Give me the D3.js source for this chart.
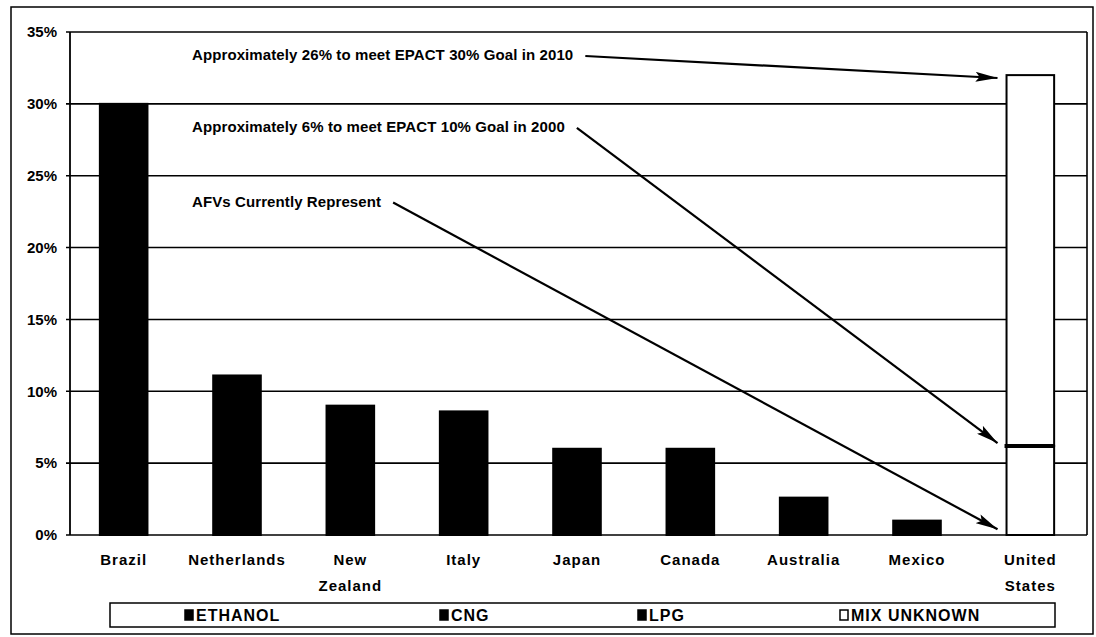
<!DOCTYPE html>
<html>
<head>
<meta charset="utf-8">
<script src="https://cdn.jsdelivr.net/npm/d3@7"></script>
<style>
  body { margin: 0; background: #fff; }
  text { font-family: "Liberation Sans", Arial, sans-serif; font-weight: bold; fill: #000; }
</style>
</head>
<body>
<div id="chart"></div>
<script>
// chart values
const countries = ["Brazil", "Netherlands", "New\nZealand", "Italy", "Japan", "Canada", "Australia", "Mexico", "United\nStates"];
const fuels     = ["ETHANOL", "LPG", "CNG", "LPG", "LPG", "LPG", "LPG", "LPG", "MIX UNKNOWN"];
const shares    = [30, 11.1, 9, 8.6, 6, 6, 2.6, 1, 6.2];
const usGap     = 25.8;   // part still needed on top of the US bar
const yTicks    = [0, 5, 10, 15, 20, 25, 30, 35];
const legendKeys = ["ETHANOL", "CNG", "LPG", "MIX UNKNOWN"];
const notes = [
    {text: "Approximately 26% to meet EPACT 30% Goal in 2010", at: 33.4, target: 31.8},
    {text: "Approximately 6% to meet EPACT 10% Goal in 2000", at: 28.4, target: 6.4},
    {text: "AFVs Currently Represent", at: 23.2, target: 0.4}
];

const width = 1096, height = 637;
const margin = {top: 32, right: 9, bottom: 102, left: 70};

const svg = d3.select("#chart").append("svg")
    .attr("width", width)
    .attr("height", height);

// outer frame
svg.append("rect")
    .attr("x", 11).attr("y", 7)
    .attr("width", 1082).attr("height", 627)
    .attr("fill", "none").attr("stroke", "#000").attr("stroke-width", 1.5);

const x = d3.scaleBand()
    .domain(countries)
    .range([margin.left - 3, width - margin.right])
    .paddingInner(0.58)
    .paddingOuter(0.29);

const y = d3.scaleLinear()
    .domain([0, 35])
    .range([height - margin.bottom, margin.top]);

// gridlines
svg.append("g")
    .selectAll("line")
    .data(yTicks)
    .join("line")
    .attr("x1", margin.left - 4)
    .attr("x2", width - margin.right)
    .attr("y1", d => y(d))
    .attr("y2", d => y(d))
    .attr("stroke", "#000")
    .attr("stroke-width", 1.6);

// plot frame sides
svg.append("line")
    .attr("x1", margin.left).attr("x2", margin.left)
    .attr("y1", y(0)).attr("y2", y(35))
    .attr("stroke", "#000").attr("stroke-width", 1.8);
svg.append("line")
    .attr("x1", width - margin.right).attr("x2", width - margin.right)
    .attr("y1", y(0)).attr("y2", y(35))
    .attr("stroke", "#000").attr("stroke-width", 1.6);

// y tick labels
svg.append("g")
    .selectAll("text")
    .data(yTicks)
    .join("text")
    .attr("x", 57)
    .attr("y", d => y(d))
    .attr("dy", "0.35em")
    .attr("text-anchor", "end")
    .attr("font-size", 15)
    .text(d => d + "%");

// bars
const bars = countries.map((c, i) => ({country: c, fuel: fuels[i], value: shares[i]}));

svg.append("g")
    .selectAll("rect")
    .data(bars)
    .join("rect")
    .attr("x", d => x(d.country))
    .attr("width", x.bandwidth())
    .attr("y", d => y(d.value))
    .attr("height", d => y(0) - y(d.value))
    .attr("fill", d => d.fuel == "MIX UNKNOWN" ? "#fff" : "#000")
    .attr("stroke", "#000")
    .attr("stroke-width", 2);

// US stacked part up to the 2010 goal
const us = bars[bars.length - 1];
svg.append("rect")
    .attr("x", x(us.country))
    .attr("width", x.bandwidth())
    .attr("y", y(us.value + usGap))
    .attr("height", y(us.value) - y(us.value + usGap))
    .attr("fill", "#fff")
    .attr("stroke", "#000")
    .attr("stroke-width", 2);
svg.append("line")
    .attr("x1", x(us.country) - 2)
    .attr("x2", x(us.country) + x.bandwidth())
    .attr("y1", y(us.value))
    .attr("y2", y(us.value))
    .attr("stroke", "#000")
    .attr("stroke-width", 4);

// x labels
const xl = svg.append("g")
    .selectAll("text")
    .data(countries)
    .join("text")
    .attr("x", d => x(d) + x.bandwidth() / 2)
    .attr("y", 565)
    .attr("text-anchor", "middle")
    .attr("font-size", 15)
    .attr("letter-spacing", 1);
xl.selectAll("tspan")
    .data(d => d.split("\n"))
    .join("tspan")
    .attr("x", function() { return d3.select(this.parentNode).attr("x"); })
    .attr("dy", (d, i) => i ? 26 : 0)
    .text(d => d);

// annotations with arrows
svg.append("defs").append("marker")
    .attr("id", "head")
    .attr("viewBox", "0 0 22 10")
    .attr("refX", 22).attr("refY", 5)
    .attr("markerWidth", 22).attr("markerHeight", 10)
    .attr("markerUnits", "userSpaceOnUse")
    .attr("orient", "auto")
    .append("path")
    .attr("d", "M0,0 L22,5 L0,10 L4,5 Z")
    .attr("fill", "#000");

notes.forEach(n => {
    const t = svg.append("text")
        .attr("x", margin.left + 122)
        .attr("y", y(n.at))
        .attr("dy", "0.35em")
        .attr("font-size", 15)
        .attr("letter-spacing", 0.1)
        .text(n.text);
    const bb = t.node().getBBox();
    svg.append("line")
        .attr("x1", bb.x + bb.width + 12)
        .attr("y1", y(n.at) + 1)
        .attr("x2", x(us.country) - 9)
        .attr("y2", y(n.target))
        .attr("stroke", "#000")
        .attr("stroke-width", 2.2)
        .attr("marker-end", "url(#head)");
});

// legend
const leg = svg.append("g");
leg.append("rect")
    .attr("x", 110).attr("y", 603)
    .attr("width", 945).attr("height", 24)
    .attr("fill", "#fff").attr("stroke", "#000").attr("stroke-width", 1.5);
const legX = [185, 440, 638, 840];
const item = leg.selectAll("g")
    .data(legendKeys)
    .join("g")
    .attr("transform", (d, i) => `translate(${legX[i]},615)`);
item.append("rect")
    .attr("x", 0).attr("y", -5)
    .attr("width", 8).attr("height", 10)
    .attr("fill", d => d == "MIX UNKNOWN" ? "#fff" : "#000")
    .attr("stroke", "#000").attr("stroke-width", 1.5);
item.append("text")
    .attr("x", 11)
    .attr("dy", "0.35em")
    .attr("font-size", 16)
    .attr("letter-spacing", 1)
    .text(d => d);
</script>
</body>
</html>
